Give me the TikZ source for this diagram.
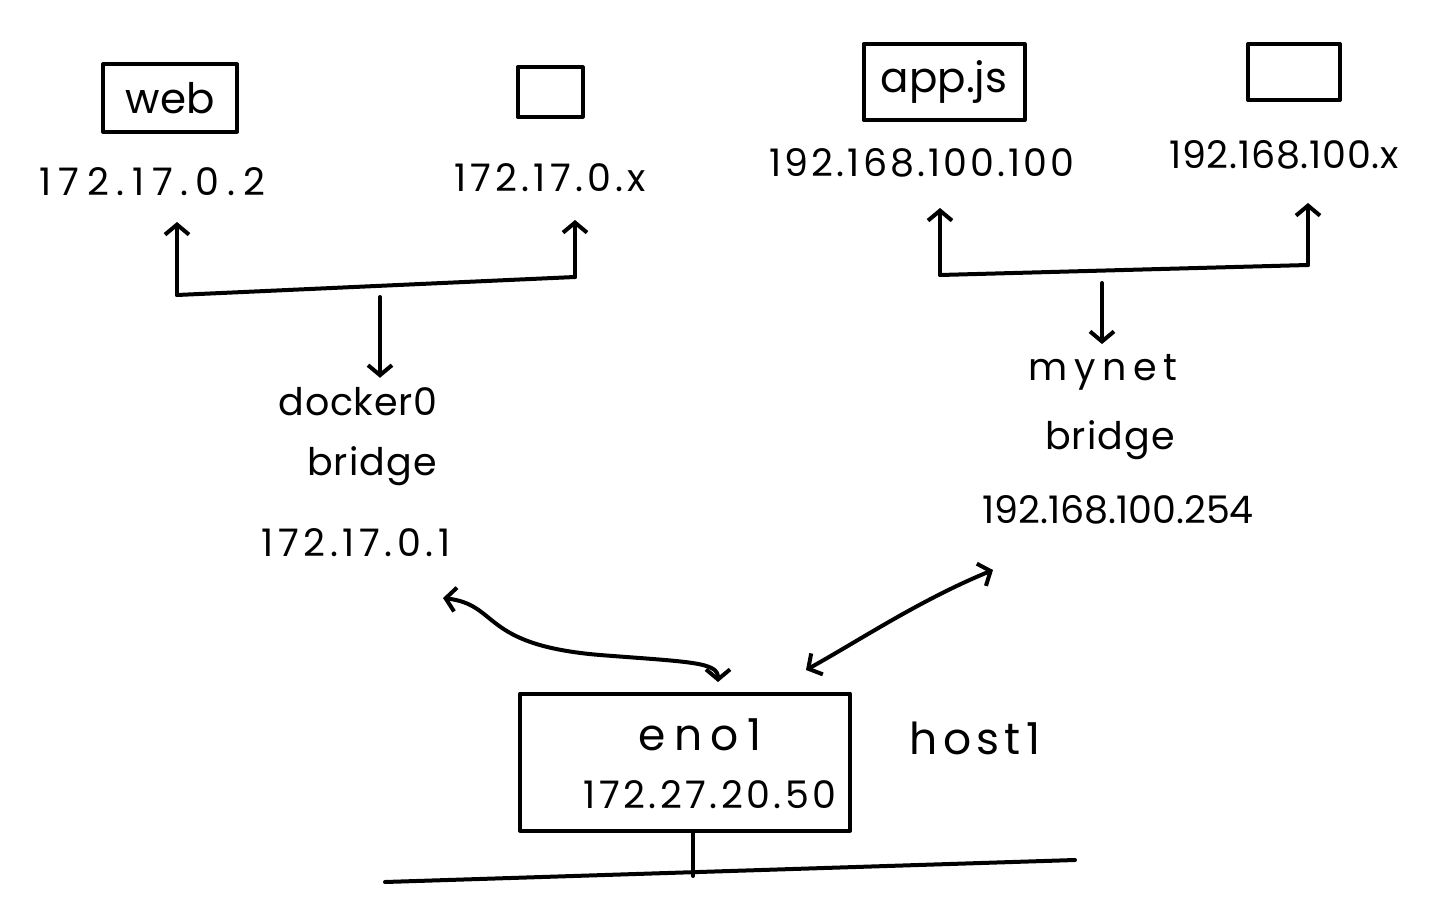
\documentclass[tikz,border=0pt]{standalone}
\usepackage{fontspec}
\setmainfont{Poppins}
\usetikzlibrary{arrows.meta}
\begin{document}
\begin{tikzpicture}[x=1pt,y=-1pt,line width=4pt,line cap=round,line join=round,
  lbl/.style={font=\fontsize{38}{50}\selectfont\addfontfeature{LetterSpace=#1},inner sep=0pt},
  lbl/.default=0,
  hlbl/.style={font=\fontsize{44}{50}\selectfont\addfontfeature{LetterSpace=#1},inner sep=0pt},
  big/.style={font=\fontsize{42}{50}\selectfont,inner sep=0pt},
  box/.style={draw,inner sep=0pt},
  tip/.tip={Straight Barb[length=10pt,width=24pt]},
  arr/.style={-tip},
  darr/.style={tip-tip}]
\useasboundingbox (0,0) rectangle (1440,899);
% left containers
\node[box,big,minimum width=134pt,minimum height=67pt] (web) at (170,98) {web};
\node[box,minimum width=65pt,minimum height=49pt] (c2) at (550,92) {};
\node[lbl=20] (ip1) at (152,182) {172.17.0.2};
\node[lbl=11] (ip2) at (550,178) {172.17.0.x};
% right containers
\node[box,big,minimum width=161pt,minimum height=76pt] (app) at (944,82) {app.js};
\node[box,minimum width=92pt,minimum height=56pt] (c4) at (1294,72) {};
\node[lbl=8] (ip3) at (922,163) {192.168.100.100};
\node[lbl=2] (ip4) at (1284,155) {192.168.100.x};
% bridges
\node[lbl=2] (docker) at (358,402) {docker0};
\node[lbl=3] (dbr) at (372,466) {bridge};
\node[lbl=12] (dip) at (356,543) {172.17.0.1};
\node[lbl=17] (mynet) at (1103,372) {mynet};
\node[lbl=3] (mbr) at (1110,440) {bridge};
\node[lbl=0] (mip) at (1118,510) {192.168.100.254};
% host
\node[box,minimum width=330pt,minimum height=137pt] (eno) at (685,762) {};
\node[hlbl=19] (enoname) at (700,735) {eno1};
\node[lbl=9] (enoip) at (710,795) {172.27.20.50};
\node[hlbl=12] (host) at (975,738) {host1};
% left bracket
\coordinate (l1) at (177,295);
\coordinate (l2) at (575,277);
\coordinate (t1) at (177,222);
\coordinate (t2) at (575,220);
\coordinate (d1) at (380,297);
\draw (l1) -- (l2);
\draw[arr] (l1) -- (t1);
\draw[arr] (l2) -- (t2);
\draw[arr] (d1) -- ([yshift=8pt]docker.north -| d1);
% right bracket
\coordinate (r1) at (940,275);
\coordinate (r2) at (1308,265);
\coordinate (s1) at (940,208);
\coordinate (s2) at (1308,203);
\coordinate (e1) at (1102,283);
\draw (r1) -- (r2);
\draw[arr] (r1) -- (s1);
\draw[arr] (r2) -- (s2);
\draw[arr] (e1) -- ([yshift=8pt]mynet.north -| e1);
% links to host
\coordinate (a1) at (443,598);
\coordinate (a2) at (718,682);
\coordinate (b1) at (993,570);
\coordinate (b2) at (806,670);
\draw[darr] (a1) .. controls (500,605) and (480,645) .. (600,655) .. controls (690,662) and (718,662) .. (a2);
\draw[darr] (b1) .. controls (920,600) and (860,640) .. (b2);
% bus
\coordinate (busL) at (385,882);
\coordinate (busR) at (1075,860);
\coordinate (bus) at (693,876);
\draw (busL) -- (busR);
\draw (eno.south -| bus) -- (bus);
\end{tikzpicture}
\end{document}
